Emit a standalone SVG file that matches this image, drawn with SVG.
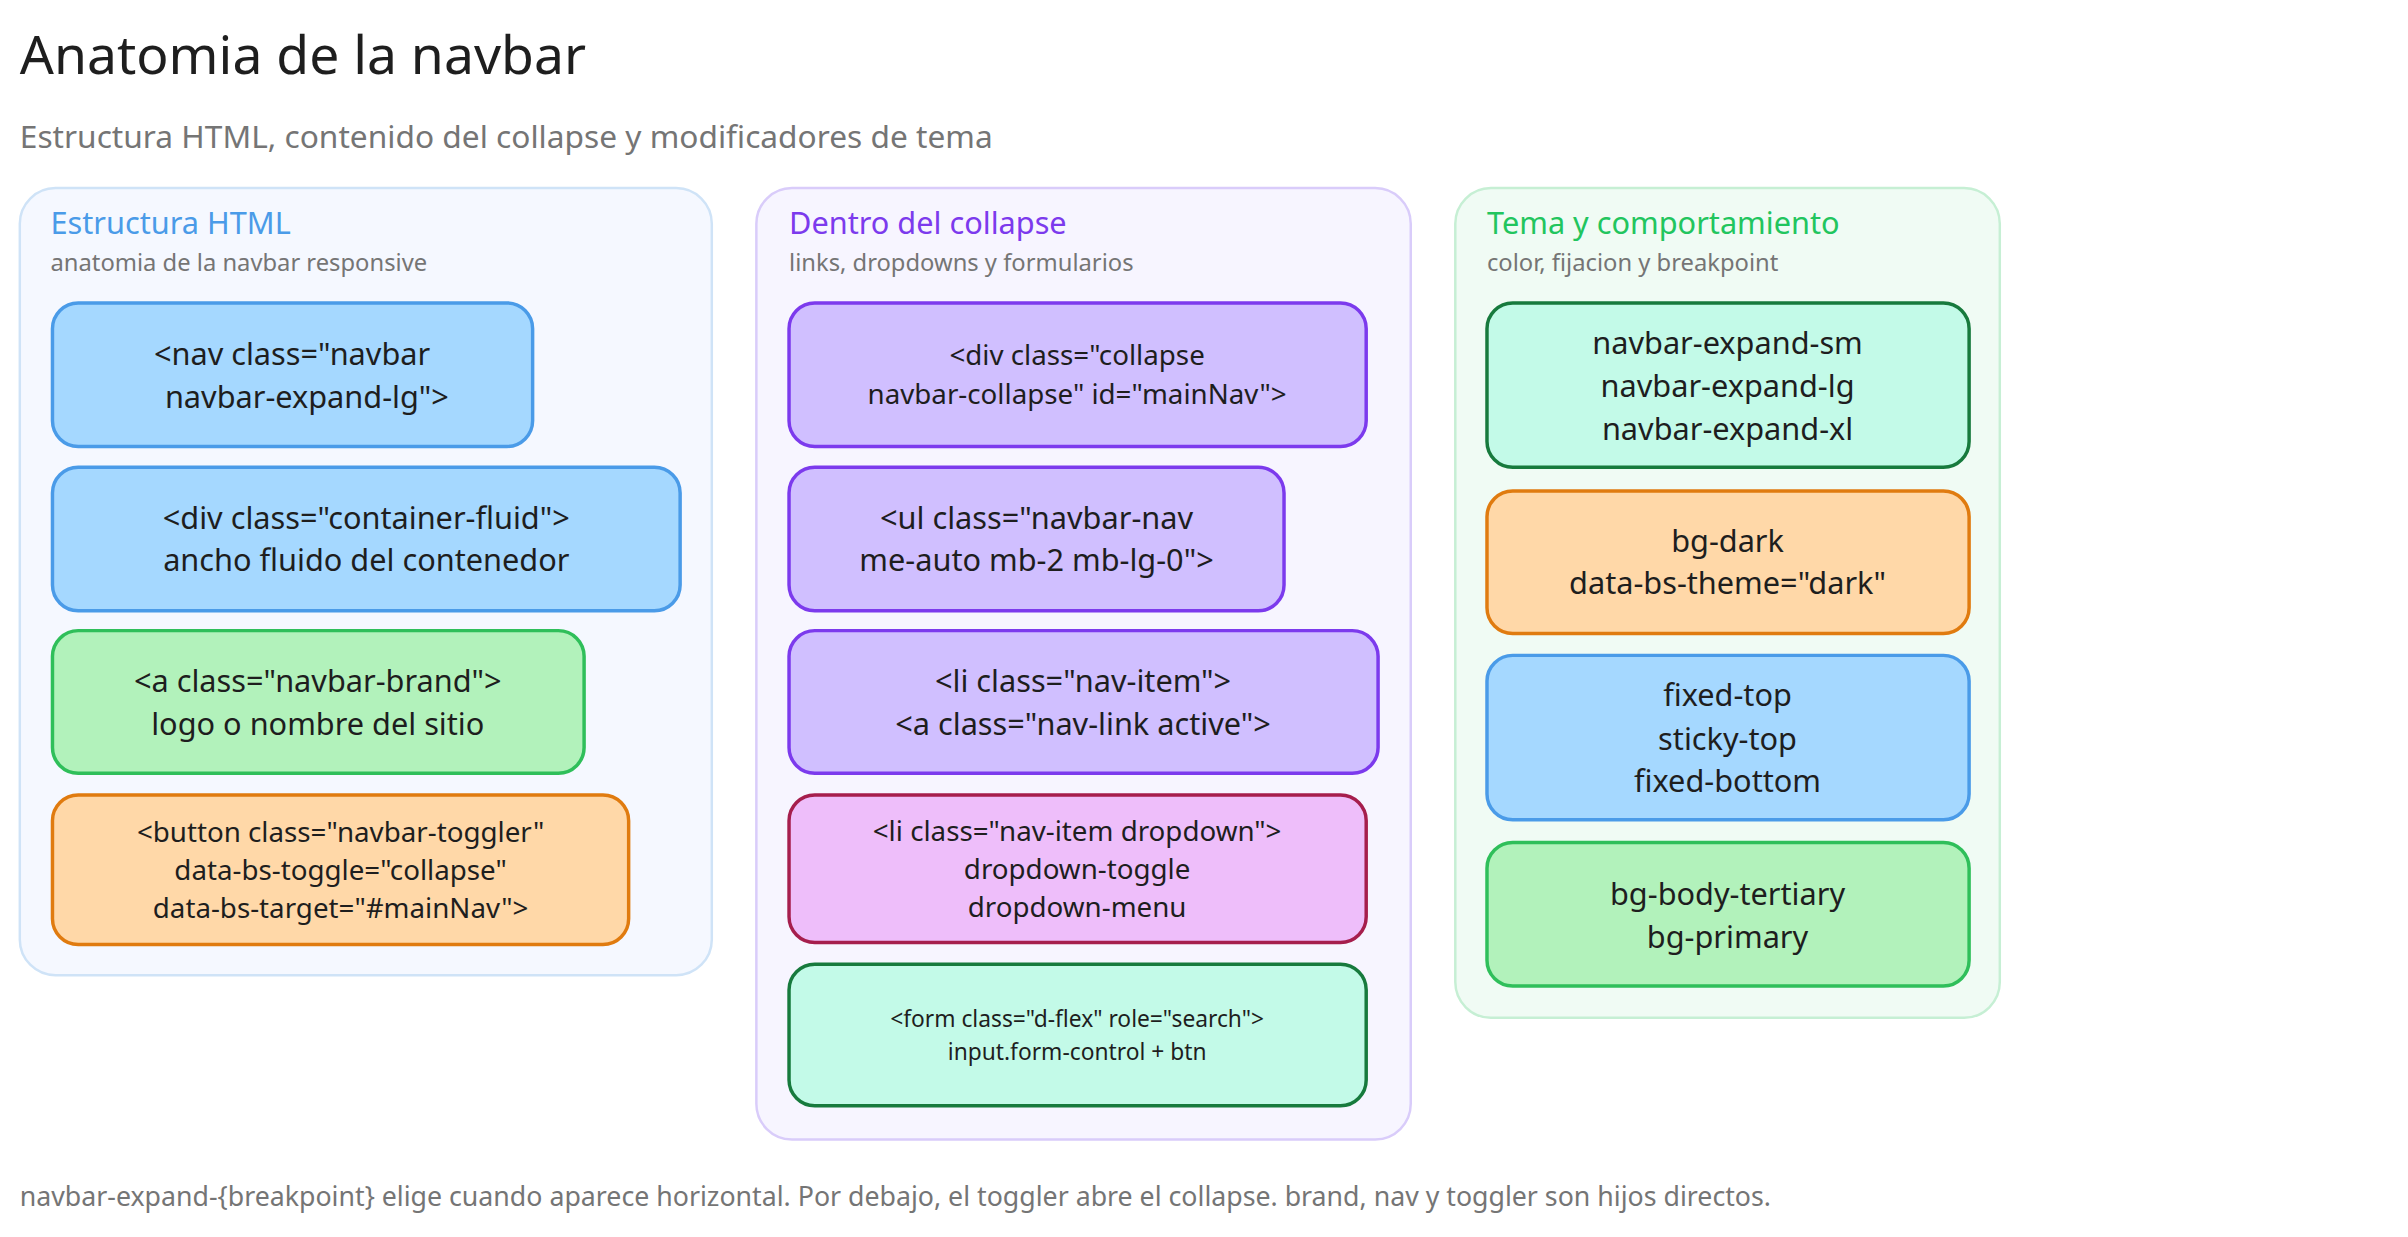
<svg xmlns="http://www.w3.org/2000/svg" width="2408" height="1237" viewBox="0 0 2408 1237">
<style>
text{font-family:"Noto Sans","Liberation Sans",sans-serif;}
.t{font-size:31px;fill:#1e1e1e;text-anchor:middle;dominant-baseline:central}
.s{font-size:28px}.xs{font-size:23px}
.ph{font-size:31px}.psub{font-size:24px;fill:#757575}
.nd{stroke-width:3.5}
.blue{fill:#a5d8ff;stroke:#4a9be8}.green{fill:#b2f2bb;stroke:#2fbf5a}.orange{fill:#ffd8a8;stroke:#e07b0f}
.purple{fill:#d0bfff;stroke:#7c3aed}.pink{fill:#eebefa;stroke:#a61e4d}.mint{fill:#c3fae8;stroke:#177a3d}
</style>
<rect width="2408" height="1237" fill="#ffffff"/>
<g transform="scale(0.99)">
<text x="20" y="75" font-size="54" fill="#1e1e1e">Anatomia de la navbar</text>
<text x="20" y="150" font-size="32" fill="#757575">Estructura HTML, contenido del collapse y modificadores de tema</text>

<g id="panel-estructura">
<rect x="20" y="190" width="699" height="795" rx="36" fill="#f5f8ff" stroke="#cfe3f7" stroke-width="2.5"/>
<text x="51" y="236" class="ph" fill="#4a9be8">Estructura HTML</text>
<text x="51" y="274" class="psub">anatomia de la navbar responsive</text>
</g>
<g id="panel-collapse">
<rect x="764" y="190" width="661" height="961" rx="36" fill="#f7f5ff" stroke="#d9ccfa" stroke-width="2.5"/>
<text x="797" y="236" class="ph" fill="#7c3aed">Dentro del collapse</text>
<text x="797" y="274" class="psub">links, dropdowns y formularios</text>
</g>
<g id="panel-tema">
<rect x="1470" y="190" width="550" height="838" rx="36" fill="#f0fbf4" stroke="#c6efd4" stroke-width="2.5"/>
<text x="1502" y="236" class="ph" fill="#22c55e">Tema y comportamiento</text>
<text x="1502" y="274" class="psub">color, fijacion y breakpoint</text>
</g>

<g id="n-nav"><rect class="nd blue" x="53" y="306" width="485" height="145" rx="26"/>
<text class="t" x="295" y="357">&lt;nav class="navbar</text><text class="t" x="310" y="400">navbar-expand-lg"&gt;</text></g>
<g id="n-container"><rect class="nd blue" x="53" y="472" width="634" height="145" rx="26"/>
<text class="t" x="370" y="522">&lt;div class="container-fluid"&gt;</text><text class="t" x="370" y="565">ancho fluido del contenedor</text></g>
<g id="n-brand"><rect class="nd green" x="53" y="637" width="537" height="144" rx="26"/>
<text class="t" x="321" y="687">&lt;a class="navbar-brand"&gt;</text><text class="t" x="321" y="730">logo o nombre del sitio</text></g>
<g id="n-toggler"><rect class="nd orange" x="53" y="803" width="582" height="151" rx="26"/>
<text class="t s" x="344" y="839">&lt;button class="navbar-toggler"</text><text class="t s" x="344" y="878">data-bs-toggle="collapse"</text><text class="t s" x="344" y="916">data-bs-target="#mainNav"&gt;</text></g>

<g id="n-collapse"><rect class="nd purple" x="797" y="306" width="583" height="145" rx="26"/>
<text class="t s" x="1088" y="358">&lt;div class="collapse</text><text class="t s" x="1088" y="397">navbar-collapse" id="mainNav"&gt;</text></g>
<g id="n-ul"><rect class="nd purple" x="797" y="472" width="500" height="145" rx="26"/>
<text class="t" x="1047" y="522">&lt;ul class="navbar-nav</text><text class="t" x="1047" y="565">me-auto mb-2 mb-lg-0"&gt;</text></g>
<g id="n-li"><rect class="nd purple" x="797" y="637" width="595" height="144" rx="26"/>
<text class="t" x="1094" y="687">&lt;li class="nav-item"&gt;</text><text class="t" x="1094" y="730">&lt;a class="nav-link active"&gt;</text></g>
<g id="n-dropdown"><rect class="nd pink" x="797" y="803" width="583" height="149" rx="26"/>
<text class="t s" x="1088" y="838">&lt;li class="nav-item dropdown"&gt;</text><text class="t s" x="1088" y="877">dropdown-toggle</text><text class="t s" x="1088" y="915">dropdown-menu</text></g>
<g id="n-form"><rect class="nd mint" x="797" y="974" width="583" height="143" rx="26"/>
<text class="t xs" x="1088" y="1029">&lt;form class="d-flex" role="search"&gt;</text><text class="t xs" x="1088" y="1062">input.form-control + btn</text></g>

<g id="n-expand"><rect class="nd mint" x="1502" y="306" width="487" height="166" rx="26"/>
<text class="t" x="1745" y="345">navbar-expand-sm</text><text class="t" x="1745" y="389">navbar-expand-lg</text><text class="t" x="1745" y="432">navbar-expand-xl</text></g>
<g id="n-dark"><rect class="nd orange" x="1502" y="496" width="487" height="144" rx="26"/>
<text class="t" x="1745" y="545">bg-dark</text><text class="t" x="1745" y="588">data-bs-theme="dark"</text></g>
<g id="n-fixed"><rect class="nd blue" x="1502" y="662" width="487" height="166" rx="26"/>
<text class="t" x="1745" y="701">fixed-top</text><text class="t" x="1745" y="745">sticky-top</text><text class="t" x="1745" y="788">fixed-bottom</text></g>
<g id="n-bg"><rect class="nd green" x="1502" y="851" width="487" height="145" rx="26"/>
<text class="t" x="1745" y="902">bg-body-tertiary</text><text class="t" x="1745" y="945">bg-primary</text></g>

<g id="connectors"></g>
<text x="20" y="1218" font-size="27" fill="#757575">navbar-expand-{breakpoint} elige cuando aparece horizontal. Por debajo, el toggler abre el collapse. brand, nav y toggler son hijos directos.</text>
</g>
</svg>
